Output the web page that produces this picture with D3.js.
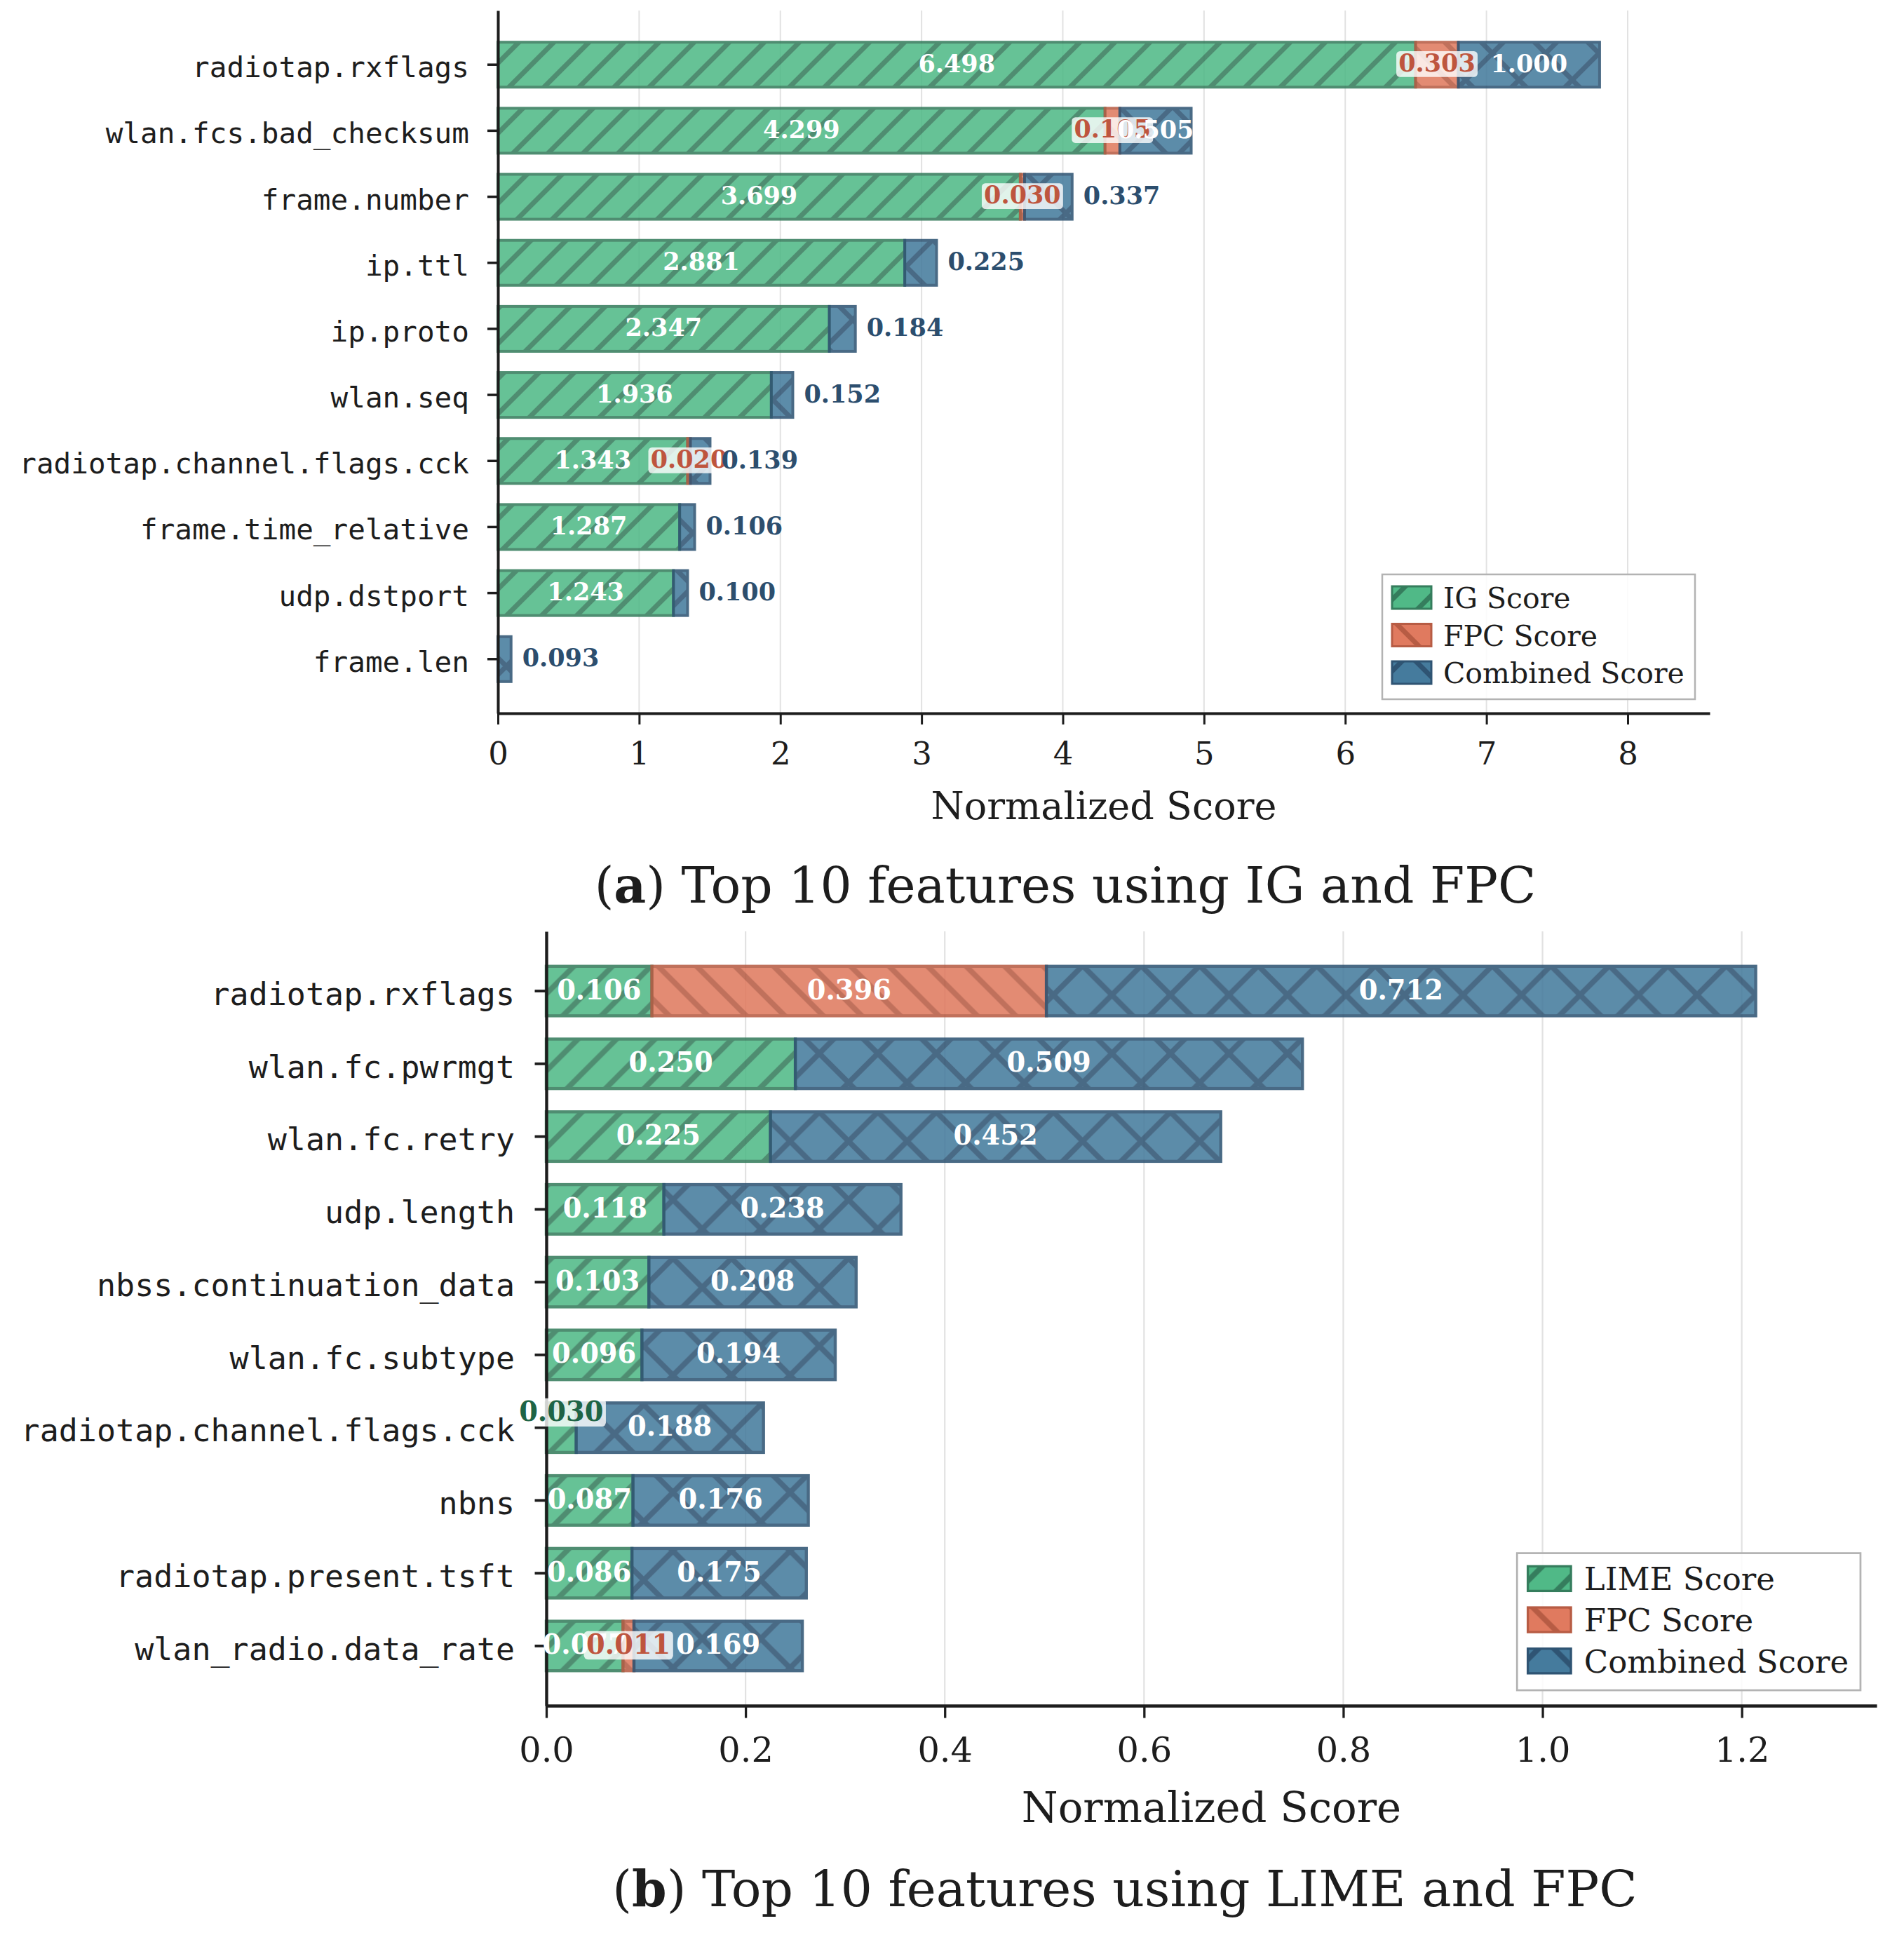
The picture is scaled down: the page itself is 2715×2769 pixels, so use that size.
<!DOCTYPE html>
<html>
<head>
<meta charset="utf-8">
<script src="https://cdn.jsdelivr.net/npm/d3@7"></script>
<style>
  html, body { margin: 0; padding: 0; background: #fff; }
  svg text { font-family: "DejaVu Serif", serif; }
</style>
</head>
<body>
<div id="chart"></div>
<script>
// (a) IG + FPC
const featuresA = ["radiotap.rxflags", "wlan.fcs.bad_checksum", "frame.number", "ip.ttl", "ip.proto",
  "wlan.seq", "radiotap.channel.flags.cck", "frame.time_relative", "udp.dstport", "frame.len"];
const igScores = [6.498, 4.299, 3.699, 2.881, 2.347, 1.936, 1.343, 1.287, 1.243, 0];
const fpcScoresA = [0.303, 0.105, 0.030, 0, 0, 0, 0.020, 0, 0, 0];
const combinedScoresA = [1.000, 0.505, 0.337, 0.225, 0.184, 0.152, 0.139, 0.106, 0.100, 0.093];
const ticksA = [0, 1, 2, 3, 4, 5, 6, 7, 8];
const namesA = ["IG Score", "FPC Score", "Combined Score"];

// (b) LIME + FPC
const featuresB = ["radiotap.rxflags", "wlan.fc.pwrmgt", "wlan.fc.retry", "udp.length", "nbss.continuation_data",
  "wlan.fc.subtype", "radiotap.channel.flags.cck", "nbns", "radiotap.present.tsft", "wlan_radio.data_rate"];
const limeScores = [0.106, 0.250, 0.225, 0.118, 0.103, 0.096, 0.030, 0.087, 0.086, 0.077];
const fpcScoresB = [0.396, 0, 0, 0, 0, 0, 0, 0, 0, 0.011];
const combinedScoresB = [0.712, 0.509, 0.452, 0.238, 0.208, 0.194, 0.188, 0.176, 0.175, 0.169];
const ticksB = [0, 0.2, 0.4, 0.6, 0.8, 1.0, 1.2];
const namesB = ["LIME Score", "FPC Score", "Combined Score"];

const FILL = ["#50B987", "#E07A5F", "#457B9D"];
const EDGE = ["#357D5D", "#B75C44", "#2F5473"];
const SMALL_TEXT = ["#1E6446", "#BE553E", "#2C4E6E"];
const HATCH = ["fwd", "back", "cross"];
const INK = "#1d1d1d";

const W = 2715, H = 2769;
const svg = d3.select("#chart").append("svg")
  .attr("width", W).attr("height", H)
  .style("display", "block");
svg.append("rect").attr("width", W).attr("height", H).attr("fill", "#fff");
const defs = svg.append("defs");

function addPattern(pid, type, s, fill, stroke, lw) {
  const p = defs.append("pattern")
    .attr("id", pid)
    .attr("patternUnits", "userSpaceOnUse")
    .attr("width", s).attr("height", s);
  p.append("rect").attr("width", s).attr("height", s).attr("fill", fill);
  const h = s / 2;
  const fwd = `M${-h},${h}L${h},${-h}M0,${s}L${s},0M${h},${s + h}L${s + h},${h}`;
  const back = `M${-h},${h}L${h},${s + h}M0,0L${s},${s}M${h},${-h}L${s + h},${h}`;
  const d = type === "fwd" ? fwd : type === "back" ? back : fwd + back;
  p.append("path").attr("d", d).attr("fill", "none")
    .attr("stroke", stroke).attr("stroke-width", lw);
}

function drawPanel(opt) {
  const { id, k, x0, x1, y0, y1, features, series, names, ticks, fmt } = opt;
  const g = svg.append("g");

  const totals = features.map((f, i) => d3.sum(series, s => s[i]));
  const xMax = d3.max(totals) * 1.1;
  const x = d3.scaleLinear().domain([0, xMax]).range([x0, x1]);
  const y = d3.scaleBand().domain(features).range([y0, y1])
    .paddingInner(0.32).paddingOuter(0.48);

  // hatch patterns
  HATCH.forEach((t, j) => {
    const s = (j === 2 ? 76 : 50) * k;
    addPattern(`${id}-h${j}`, t, s, FILL[j], EDGE[j], 7 * k);
  });

  // grid
  g.append("g").selectAll("line").data(ticks.filter(t => t > 0)).join("line")
    .attr("x1", d => x(d)).attr("x2", d => x(d))
    .attr("y1", y0).attr("y2", y1)
    .attr("stroke", "#e2e2e2").attr("stroke-width", 2 * k);

  // stacked bars
  const bars = g.append("g");
  features.forEach((f, i) => {
    let cum = 0;
    series.forEach((s, j) => {
      const v = s[i];
      if (v > 0) {
        bars.append("rect")
          .attr("x", x(cum)).attr("y", y(f))
          .attr("width", x(cum + v) - x(cum)).attr("height", y.bandwidth())
          .attr("fill", `url(#${id}-h${j})`)
          .attr("stroke", EDGE[j]).attr("stroke-width", 4 * k)
          .attr("opacity", 0.87);
      }
      cum += v;
    });
  });

  // axes
  const xAxis = d3.axisBottom(x).tickValues(ticks).tickFormat(fmt)
    .tickSize(16 * k).tickSizeOuter(0).tickPadding(25 * k);
  const gx = g.append("g").attr("transform", `translate(0,${y1})`).call(xAxis);
  gx.select(".domain").attr("stroke", INK).attr("stroke-width", 4 * k);
  gx.selectAll(".tick line").attr("stroke", INK).attr("stroke-width", 3 * k);
  gx.selectAll(".tick text").attr("fill", INK)
    .style("font-family", "'DejaVu Serif', serif").style("font-size", `${45 * k}px`);

  const yAxis = d3.axisLeft(y).tickSize(15 * k).tickSizeOuter(0).tickPadding(26 * k);
  const gy = g.append("g").attr("transform", `translate(${x0},0)`).call(yAxis);
  gy.select(".domain").attr("stroke", INK).attr("stroke-width", 4 * k);
  gy.selectAll(".tick line").attr("stroke", INK).attr("stroke-width", 3.5 * k);
  gy.selectAll(".tick text").attr("fill", INK).attr("dy", "0.44em")
    .style("font-family", "'DejaVu Sans Mono', monospace").style("font-size", `${41 * k}px`);

  g.append("text")
    .attr("x", (x0 + x1) / 2).attr("y", y1 + 151 * k)
    .attr("text-anchor", "middle").attr("fill", INK)
    .style("font-size", `${54 * k}px`)
    .text("Normalized Score");

  // value labels
  const fs = 35 * k;
  const thresh = 0.05 * xMax;
  const labels = g.append("g").style("font-size", `${fs}px`).style("font-weight", "bold");
  features.forEach((f, i) => {
    let cum = 0;
    series.forEach((s, j) => {
      const v = s[i];
      if (v <= 0) return;
      const cy = y(f) + y.bandwidth() / 2;
      const txt = v.toFixed(3);
      if (v >= thresh) {
        labels.append("text")
          .attr("x", x(cum + v / 2)).attr("y", cy + 0.3 * fs)
          .attr("text-anchor", "middle").attr("fill", "#fff").text(txt);
      } else if (j === 2) {
        labels.append("text")
          .attr("x", x(totals[i]) + 16 * k).attr("y", cy + 0.3 * fs)
          .attr("fill", SMALL_TEXT[2]).text(txt);
      } else {
        const ly = j === 0 ? cy - 0.2 * y.step() : cy;
        const base = ly + 0.28 * fs;
        const box = labels.append("rect");
        const t = labels.append("text")
          .attr("x", x(cum + v / 2)).attr("y", base)
          .attr("text-anchor", "middle").attr("fill", SMALL_TEXT[j]).text(txt);
        const tw = t.node().getComputedTextLength();
        const pad = 0.09 * fs;
        box.attr("x", x(cum + v / 2) - tw / 2 - pad).attr("y", base - 0.83 * fs)
          .attr("width", tw + 2 * pad).attr("height", 1.05 * fs)
          .attr("rx", 0.15 * fs)
          .attr("fill", "#fff").attr("fill-opacity", 0.8);
      }
      cum += v;
    });
  });

  // legend
  const lw = 446 * k, lh = 178 * k;
  const lx = x1 - 21 * k - lw, ly = y1 - 20 * k - lh;
  const lg = g.append("g").attr("transform", `translate(${lx},${ly})`);
  lg.append("rect").attr("width", lw).attr("height", lh)
    .attr("fill", "#fff").attr("fill-opacity", 0.85)
    .attr("stroke", "#b3b3b3").attr("stroke-width", 2.5 * k);
  names.forEach((n, j) => {
    const rc = (33 + 53.5 * j) * k;
    lg.append("rect")
      .attr("x", 14 * k).attr("y", rc - 16 * k)
      .attr("width", 56 * k).attr("height", 32 * k)
      .attr("fill", `url(#${id}-h${j})`)
      .attr("stroke", EDGE[j]).attr("stroke-width", 3 * k);
    lg.append("text")
      .attr("x", 87 * k).attr("y", rc + 0.37 * 41 * k)
      .attr("fill", INK).style("font-size", `${41 * k}px`)
      .text(n);
  });
}

function caption(letter, rest, cx, by) {
  const t = svg.append("text")
    .attr("x", cx).attr("y", by)
    .attr("text-anchor", "middle").attr("fill", INK)
    .style("font-size", "71px");
  t.append("tspan").text("(");
  t.append("tspan").style("font-weight", "bold").text(letter);
  t.append("tspan").text(") " + rest);
}

drawPanel({
  id: "a", k: 1, x0: 710, x1: 2438, y0: 15, y1: 1017,
  features: featuresA, series: [igScores, fpcScoresA, combinedScoresA],
  names: namesA, ticks: ticksA, fmt: d3.format("d")
});
caption("a", "Top 10 features using IG and FPC", 1519, 1287);

drawPanel({
  id: "b", k: 1.098, x0: 779, x1: 2676, y0: 1328, y1: 2432,
  features: featuresB, series: [limeScores, fpcScoresB, combinedScoresB],
  names: namesB, ticks: ticksB, fmt: d3.format(".1f")
});
caption("b", "Top 10 features using LIME and FPC", 1604, 2718);
</script>
</body>
</html>
